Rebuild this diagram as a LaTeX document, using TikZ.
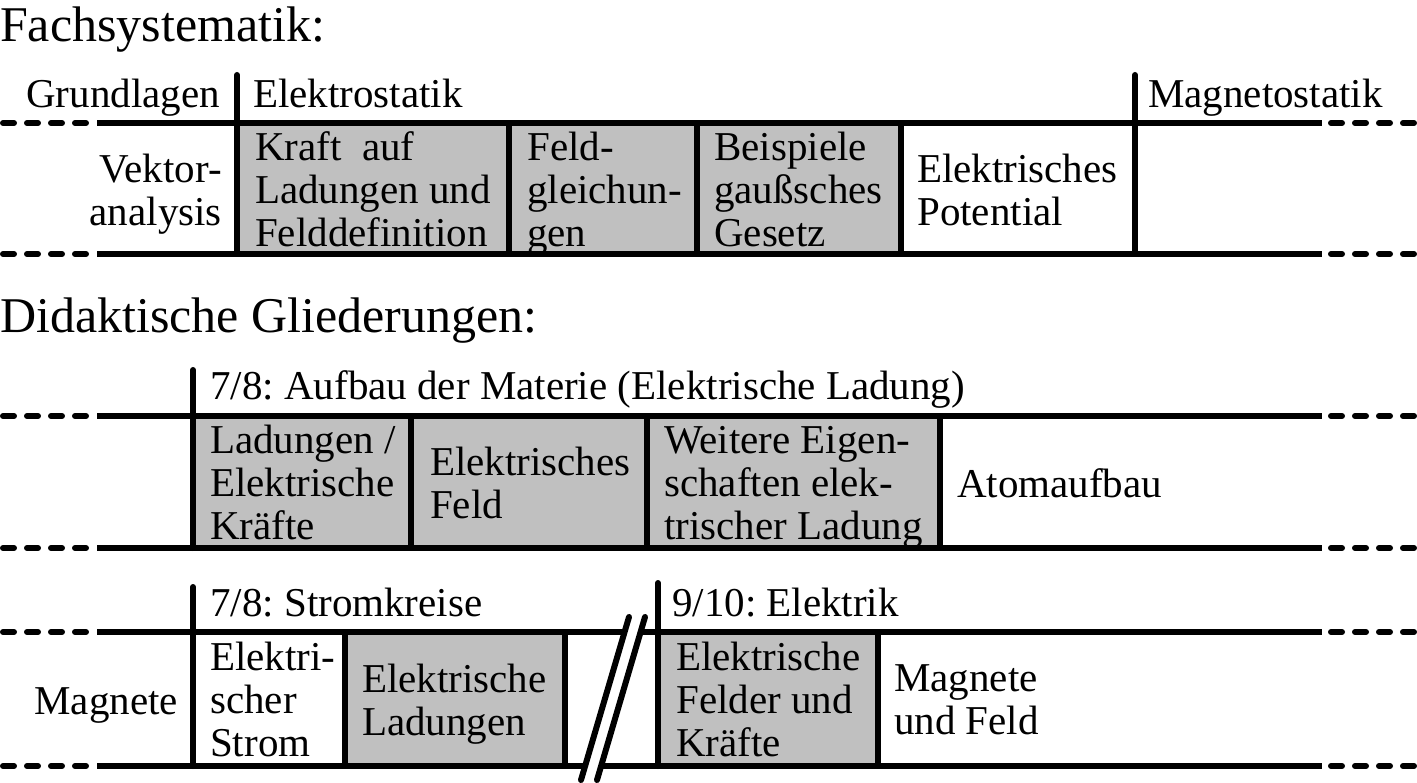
\documentclass[tikz,border=0pt]{standalone}
\usepackage{fontspec}
\setmainfont{Liberation Serif}
\definecolor{boxgray}{RGB}{192,192,192}
\frenchspacing

\begin{document}
\begin{tikzpicture}[x=1pt,y=-1pt,
		rule/.style={line width=6pt},
		tall/.style={line width=6pt,line cap=round},
		tail/.style={line width=6pt,line cap=round,dash pattern=on 11pt off 13pt},
		txt/.style={inner sep=0pt,anchor=west,align=left,font=\fontsize{41}{43}\selectfont,
			execute at begin node=\strut,execute at end node=\strut},
		rtxt/.style={txt,anchor=east,align=right},
		head/.style={inner sep=0pt,anchor=base west,font=\fontsize{41}{43}\selectfont},
		title/.style={inner sep=0pt,anchor=base west,font=\fontsize{50}{52}\selectfont}]
	\useasboundingbox (0,0) rectangle (1417,783);

	\fill [boxgray] (237,123) rectangle (901,254);
	\foreach \y in {123,254} {
		\draw [tail] (3,\y) -- (97,\y);
		\draw [rule] (97,\y) -- (1322,\y);
		\draw [tail] (1331,\y) -- (1417,\y);
	}
	\draw [tall] (237,75) -- (237,254);
	\draw [tall] (1135,75) -- (1135,254);
	\foreach \x in {509,697,901}
		\draw [rule] (\x,123) -- (\x,254);
	\node [title] (fach) at (0,42) {Fachsystematik:};
	\node [head,anchor=base east] (grund) at (220,108) {Grundlagen};
	\node [head] (estat) at (253,108) {Elektrostatik};
	\node [head] (mstat) at (1148,108) {Magnetostatik};
	\node [rtxt] (vektor) at (222,196) {Vektor-\\analysis};
	\node [txt] (kraft) at (255,196) {Kraft\ \ auf\\Ladungen und\\Felddefinition};
	\node [txt] (feldgl) at (527,196) {Feld-\\gleichun-\\gen};
	\node [txt] (gauss) at (714,196) {Beispiele\\gaußsches\\Gesetz};
	\node [txt] (potential) at (917,196) {Elektrisches\\Potential};

	\node [title] (didak) at (0,333) {Didaktische Gliederungen:};
	\fill [boxgray] (193,416) rectangle (940,548);
	\foreach \y in {416,548} {
		\draw [tail] (3,\y) -- (97,\y);
		\draw [rule] (97,\y) -- (1322,\y);
		\draw [tail] (1331,\y) -- (1417,\y);
	}
	\draw [tall] (193,370) -- (193,548);
	\foreach \x in {411,647,940}
		\draw [rule] (\x,416) -- (\x,548);
	\node [head] (aufbau) at (210,400) {7/8: Aufbau der Materie (Elektrische Ladung)};
	\node [txt] (ladkraft) at (210,489) {Ladungen /\\Elektrische\\Kräfte};
	\node [txt] (efeld) at (430,489) {Elektrisches\\Feld};
	\node [txt] (eigensch) at (664,489) {Weitere Eigen-\\schaften elek-\\trischer Ladung};
	\node [txt] (atom) at (957,489) {Atomaufbau};

	\fill [boxgray] (345,632) rectangle (565,766);
	\fill [boxgray] (658,632) rectangle (878,766);
	\foreach \y in {632,766} {
		\draw [tail] (3,\y) -- (97,\y);
		\draw [rule] (97,\y) -- (1322,\y);
		\draw [tail] (1331,\y) -- (1417,\y);
	}
	\draw [tall] (193,587) -- (193,766);
	\draw [tall] (658,583) -- (658,766);
	\foreach \x in {345,565,878}
		\draw [rule] (\x,632) -- (\x,766);
	\fill [white] (581,780) -- (629,617) -- (645,617) -- (597,780) -- cycle;
	\draw [tall] (581,780) -- (629,617);
	\draw [tall] (597,780) -- (645,617);
	\node [head] (strom) at (210,616) {7/8: Stromkreise};
	\node [head] (elektrik) at (672,616) {9/10: Elektrik};
	\node [rtxt] (magnete) at (178,706) {Magnete};
	\node [txt] (estrom) at (210,706) {Elektri-\\scher\\Strom};
	\node [txt] (eladung) at (362,706) {Elektrische\\Ladungen};
	\node [txt] (efelder) at (676,706) {Elektrische\\Felder und\\Kräfte};
	\node [txt] (mfeld) at (894,706) {Magnete\\und Feld};
\end{tikzpicture}
\end{document}
